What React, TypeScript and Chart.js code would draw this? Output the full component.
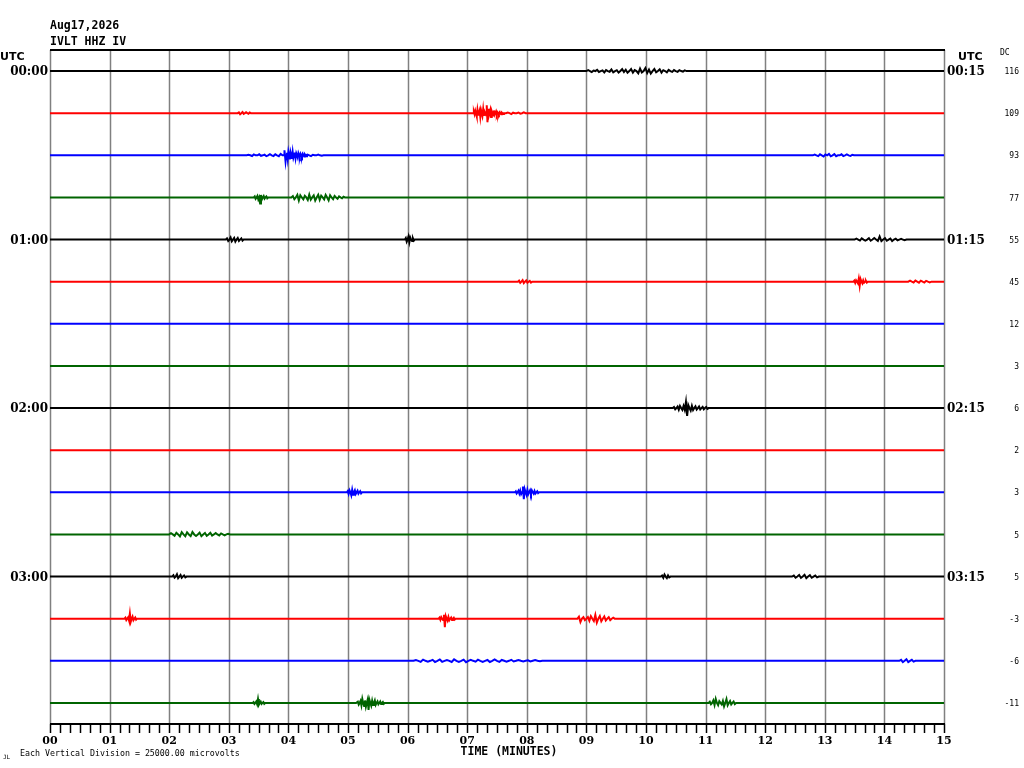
import React, { useEffect, useRef } from "react";
import { Chart, registerables } from "chart.js";

Chart.register(...registerables);

// ---- data ----
const TITLE_DATE = "Aug17,2026";
const TITLE_STATION = "IVLT HHZ IV";
const SCALE_NOTE = "Each Vertical Division = 25000.00 microvolts";
const X_AXIS_TITLE = "TIME (MINUTES)";
const MINUTE_TICKS = [0, 1, 2, 3, 4, 5, 6, 7, 8, 9, 10, 11, 12, 13, 14, 15];
const SUB_TICKS_PER_MINUTE = 6; // 10-second ticks
const LEFT_LABELS = ["00:00", "", "", "", "01:00", "", "", "", "02:00", "", "", "", "03:00", "", "", ""];
const RIGHT_LABELS = ["00:15", "", "", "", "01:15", "", "", "", "02:15", "", "", "", "03:15", "", "", ""];
const DC_VALUES = [116, 109, 93, 77, 55, 45, 12, 3, 6, 2, 3, 5, 5, -3, -6, -11];
const TRACE_COLORS = ["#000000", "#ff0000", "#0000ff", "#006400"];
const MICROVOLTS_PER_DIVISION = 25000;

// events: [start minute, sample step (min), amplitudes in microvolts]
type Ev = [number, number, number[]];
const TRACE_00: Ev[] = [
  [9.0, 0.03, [0, 500, 0, -600, 300, 0, 700, -500, 0, 400, -800, 600, 0, -400, 900, -700, 0, 500, -900, 0, 1100, -600, 800, -1000, 0, 1200, -900, 600, 0, -1300, 1500, -800, 0, 1800, -1200, 900, -1500, 0, 1200, -700, 0, 1000, -900, 500, 0, -800, 700, 0, -500, 600, 0, -400, 500, 0, -300, 400, 0]],
];
const TRACE_01: Ev[] = [
  [3.15, 0.02, [0, 500, -600, 0, 700, -400, 0, 500, 0, -300, 400]],
  [7.1, 0.012, [0, 900, -600, 1500, 0, -1800, 2000, -900, 0, 1500, -2200, 1800, 0, -1400, 2400, -1600, 900, 0, -1200, 4700, -5300, 2600, -1500, 0, 1800, -2200, 1200, 0, -1400, 1600, -900, 0, 1000, -800, 600, 0, -700, 500, 0, -600, 400, 0, -500]],
  [7.65, 0.03, [0, 400, 0, -500, 300, 0, 0, 400, -300, 0, 500, 0]],
];
const TRACE_02: Ev[] = [
  [3.3, 0.03, [0, 300, 0, -400, 500, 0, 0, 600, -300, 0, 400, -500, 0, 700, 0, -400, 600, 0, -500, 800, 0]],
  [3.94, 0.012, [3000, -3600, 0, 1500, -2000, 2200, 0, -2400, 1800, 0, -2100, 1900, -1500, 0, 1600, -1700, 1200, 0, -1300, 1200, 0, -1000, 900, 0, -900, 800, 0, -700, 600, 0, -600]],
  [4.32, 0.03, [400, 0, -500, 300, 0, 0, 400, 0, -300]],
  [12.8, 0.03, [0, 400, 0, -500, 600, 0, -700, 500, 0, 800, -600, 0, 700, -500, 0, 0, 600, -400, 0, 500, 0, -400, 300, 0]],
];
const TRACE_03: Ev[] = [
  [3.42, 0.015, [0, 600, -800, 0, 900, -1200, 0, -3600, 1500, -1200, 0, 800, -700, 0, 600, -500]],
  [4.05, 0.025, [0, 800, -1000, 0, 1500, -1800, 1300, 0, -1100, 1000, 0, -1500, 1700, -1300, 0, 1200, -1800, 0, 1600, -1400, 1000, 0, -1200, 1500, 0, -1700, 1300, 0, -1000, 900, 0, -800, 600, 0, -500, 400]],
];
const TRACE_04: Ev[] = [
  [2.95, 0.02, [0, 700, -800, 0, 1200, -1000, 0, 1000, -1200, 0, 900, -800, 0, 700, -600, 0]],
  [5.97, 0.015, [900, -1200, 0, 1800, -1500, 1200, 0, -900, 700, -600]],
  [13.5, 0.03, [0, 500, 0, -600, 700, 0, -600, 0, 800, -700, 0, 900, 0, -800, 1800, -900, 0, 800, -700, 0, 600, -900, 0, 500, -400, 0, 400, 0, -400]],
];
const TRACE_05: Ev[] = [
  [7.85, 0.02, [0, 600, -700, 0, 900, -800, 0, 700, -600, 0, 500, -500]],
  [13.48, 0.015, [0, 600, -700, 800, 0, -900, 1800, -2400, 1500, 0, -1000, 800, -600, 0, 500, -500]],
  [14.4, 0.03, [0, 600, 0, -500, 700, 0, -600, 600, 0, -500, 500, 0, -400]],
];
const TRACE_06: Ev[] = [];
const TRACE_07: Ev[] = [];
const TRACE_08: Ev[] = [
  [10.45, 0.02, [0, 600, -700, 0, 900, -1000, 1200, 0, -1100, 1300, -1000, 3600, -4700, 1800, 0, -1500, 1300, -1200, 0, 1000, -900, 0, 900, -800, 0, 700, -700, 0, 600, -500, 0]],
];
const TRACE_09: Ev[] = [];
const TRACE_10: Ev[] = [
  [4.98, 0.015, [0, 700, -900, 1200, 0, -1800, 1500, -1400, 0, 1200, -1000, 0, 900, -800, 0, 700, -600]],
  [7.8, 0.015, [0, 600, -700, 0, 900, -800, 1000, -1100, 0, 3400, -4100, 1800, 0, -1500, 1400, -1100, 0, 1200, -900, 1100, 0, -800, 800, -700, 0, 600, -500]],
];
const TRACE_11: Ev[] = [
  [2.0, 0.03, [0, 700, 0, -800, 1000, 0, -1200, 1300, 0, -1100, 1200, 0, -1000, 1400, 0, -900, 0, 1100, -1000, 0, 900, -800, 0, 1000, -700, 0, 800, 0, -600, 600, 0, -500, 0, 400]],
];
const TRACE_12: Ev[] = [
  [2.05, 0.02, [0, 800, -600, 0, 1300, -900, 0, 900, -700, 0, 600, -500]],
  [10.25, 0.02, [0, 600, -700, 1200, 0, -900, 700, -500]],
  [12.45, 0.03, [0, 600, -700, 0, 900, -800, 0, 1000, -900, 0, 800, -700, 0, 600, -500]],
];
const TRACE_13: Ev[] = [
  [1.25, 0.015, [0, 600, -800, 0, 700, -1000, 3000, -1800, 0, 1200, -900, 0, 700, -600]],
  [6.52, 0.015, [0, 600, -700, 900, 0, -800, 2400, -5000, 1500, 0, -1200, 1000, -900, 0, 700, -800, 0, 600, -500]],
  [8.85, 0.025, [0, 1200, -2000, 0, 900, -800, 0, 1000, -1200, 1500, 0, -1400, 2200, -2300, 0, 1600, -1500, 0, 1300, -1100, 0, 900, -800, 0, 600]],
];
const TRACE_14: Ev[] = [
  [6.1, 0.04, [0, 500, 0, -600, 700, 0, -500, 0, 600, -700, 0, 800, -600, 0, 500, 0, -700, 900, 0, -600, 0, 700, -800, 0, 600, 0, -500, 700, 0, -600, 0, 500, -700, 0, 800, 0, -600, 500, 0, -500, 0, 600, -400, 0, 500, 0, -400, 0, 300, -400, 0, 400, 0, -300, 0]],
  [14.25, 0.03, [0, 600, -800, 0, 900, -700, 0, 600, -500, 0]],
];
const TRACE_15: Ev[] = [
  [3.4, 0.015, [0, 500, -600, 0, 800, -700, 2400, -1000, 0, 800, -600, 0, 500, -500]],
  [5.15, 0.015, [0, 800, -900, 0, 1200, -1400, 2400, 0, -1800, 1500, -2200, 0, 2000, -4100, 1800, 0, -1600, 1300, -1200, 0, 1500, -1100, 0, 900, -800, 0, 800, -700, 0, 600, -500]],
  [11.05, 0.02, [0, 700, -800, 0, 1500, -1200, 2400, 0, -1300, 1000, 0, -900, 1200, -2000, 0, 2300, -1400, 0, 1100, -900, 0, 800, -700, 0]],
];
const TRACES: Ev[][] = [
  TRACE_00, TRACE_01, TRACE_02, TRACE_03, TRACE_04, TRACE_05, TRACE_06, TRACE_07,
  TRACE_08, TRACE_09, TRACE_10, TRACE_11, TRACE_12, TRACE_13, TRACE_14, TRACE_15,
];

function buildPoints(row: number, events: Ev[]) {
  const pts: { x: number; y: number }[] = [{ x: 0, y: row }];
  for (const [t0, dt, amps] of events) {
    pts.push({ x: t0 - dt, y: row });
    amps.forEach((a, i) => pts.push({ x: t0 + i * dt, y: row - a / MICROVOLTS_PER_DIVISION }));
    pts.push({ x: t0 + amps.length * dt, y: row });
  }
  pts.push({ x: 15, y: row });
  return pts;
}

const helicorderPlugin = {
  id: "helicorder",
  beforeDatasetsDraw(chart: any) {
    const { ctx, chartArea } = chart;
    const xs = chart.scales.x;
    ctx.save();
    ctx.strokeStyle = "#808080";
    ctx.lineWidth = 1.5;
    for (const m of MINUTE_TICKS) {
      const px = Math.round(xs.getPixelForValue(m)) + 0.5;
      ctx.beginPath();
      ctx.moveTo(px, chartArea.top);
      ctx.lineTo(px, chartArea.bottom);
      ctx.stroke();
    }
    ctx.strokeStyle = "#000";
    ctx.lineWidth = 2;
    ctx.beginPath();
    ctx.moveTo(chartArea.left, chartArea.top);
    ctx.lineTo(chartArea.right + 1, chartArea.top);
    ctx.stroke();
    ctx.restore();
  },
  afterDraw(chart: any) {
    const { ctx, chartArea } = chart;
    const xs = chart.scales.x;
    const ys = chart.scales.y;
    ctx.save();
    // bottom axis
    ctx.strokeStyle = "#000";
    ctx.lineWidth = 2;
    ctx.beginPath();
    ctx.moveTo(chartArea.left, chartArea.bottom);
    ctx.lineTo(chartArea.right + 1, chartArea.bottom);
    ctx.stroke();
    ctx.lineWidth = 1.5;
    const last = MINUTE_TICKS[MINUTE_TICKS.length - 1];
    for (let k = 0; k <= last * SUB_TICKS_PER_MINUTE; k++) {
      const px = Math.round(xs.getPixelForValue(k / SUB_TICKS_PER_MINUTE)) + 0.5;
      ctx.beginPath();
      ctx.moveTo(px, chartArea.bottom);
      ctx.lineTo(px, chartArea.bottom + 9);
      ctx.stroke();
    }
    ctx.fillStyle = "#000";
    ctx.textBaseline = "middle";
    ctx.textAlign = "center";
    ctx.font = "bold 11px 'DejaVu Serif'";
    for (const m of MINUTE_TICKS) {
      ctx.fillText(String(m).padStart(2, "0"), xs.getPixelForValue(m), chartArea.bottom + 17);
    }
    ctx.font = "bold 11.5px 'DejaVu Sans Mono'";
    ctx.fillText(X_AXIS_TITLE, xs.getPixelForValue(7.5) + 12, chartArea.bottom + 28);

    // titles
    ctx.textAlign = "left";
    ctx.fillText(TITLE_DATE, chartArea.left, 26);
    ctx.fillText(TITLE_STATION, chartArea.left, 42);

    ctx.font = "bold 11px 'DejaVu Sans'";
    ctx.fillText("UTC", 0, 57);
    ctx.fillText("UTC", chartArea.right + 14, 57);

    ctx.font = "bold 12px 'DejaVu Serif'";
    LEFT_LABELS.forEach((lab, i) => {
      if (!lab) return;
      ctx.textAlign = "right";
      ctx.fillText(lab, chartArea.left - 2, ys.getPixelForValue(i) + 1);
    });
    RIGHT_LABELS.forEach((lab, i) => {
      if (!lab) return;
      ctx.textAlign = "left";
      ctx.fillText(lab, chartArea.right + 3, ys.getPixelForValue(i) + 1);
    });

    ctx.font = "8px 'DejaVu Sans Mono'";
    ctx.textAlign = "left";
    ctx.fillText("DC", 1000, 53);
    ctx.textAlign = "right";
    DC_VALUES.forEach((v, i) => {
      ctx.fillText(String(v), 1019, ys.getPixelForValue(i) + 1);
    });

    ctx.textAlign = "left";
    ctx.font = "8.3px 'DejaVu Sans Mono'";
    ctx.fillText(SCALE_NOTE, 20, 754);
    ctx.font = "6px 'DejaVu Sans Mono'";
    ctx.fillText("JL", 3, 757);
    ctx.restore();
  },
};

export default function App() {
  const ref = useRef<HTMLCanvasElement | null>(null);
  useEffect(() => {
    if (!ref.current) return;
    const datasets = TRACES.map((ev, i) => ({
      data: buildPoints(i, ev),
      borderColor: TRACE_COLORS[i % TRACE_COLORS.length],
      borderWidth: 2,
      pointRadius: 0,
      tension: 0,
      fill: false,
    }));
    const chart = new Chart(ref.current, {
      type: "line",
      data: { datasets },
      options: {
        animation: false,
        responsive: false,
        devicePixelRatio: 1,
        layout: { padding: { left: 50, top: 50, right: 80, bottom: 44 } },
        plugins: { legend: { display: false }, tooltip: { enabled: false } },
        scales: {
          x: { type: "linear", min: 0, max: 15, display: false },
          y: { type: "linear", min: -0.5, max: 15.5, reverse: true, display: false },
        },
      },
      plugins: [helicorderPlugin],
    } as any);
    return () => chart.destroy();
  }, []);
  return (
    <div style={{ position: "fixed", left: 0, top: 0, width: 1024, height: 768, background: "#fff" }}>
      <canvas ref={ref} width={1024} height={768} style={{ width: 1024, height: 768 }} />
    </div>
  );
}
